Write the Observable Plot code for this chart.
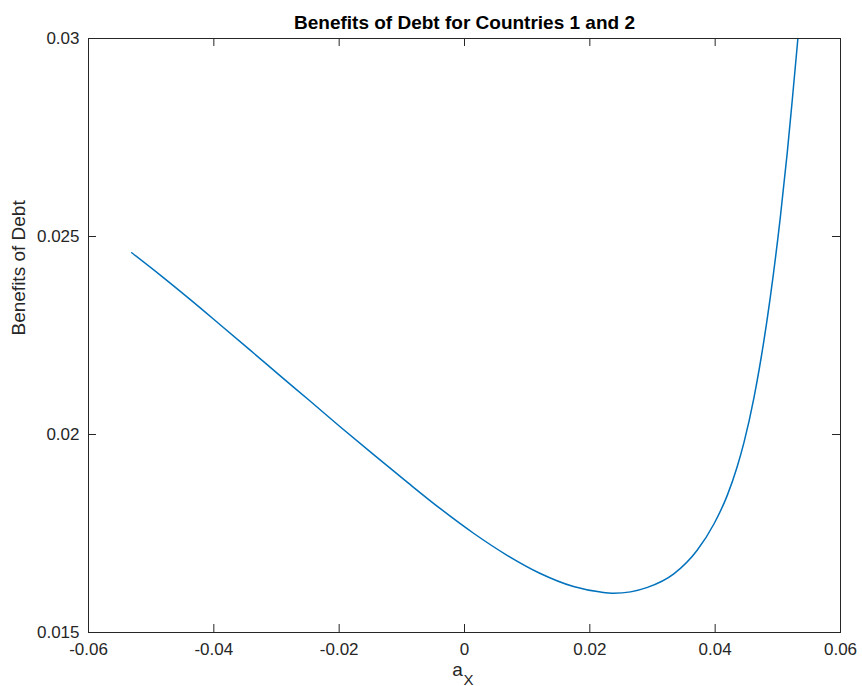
<!DOCTYPE html>
<html>
<head>
<meta charset="utf-8">
<script src="https://cdn.jsdelivr.net/npm/d3@7"></script>
<script src="https://cdn.jsdelivr.net/npm/@observablehq/plot@0.6"></script>
<style>
  body { margin: 0; background: #fff; }
</style>
</head>
<body>
<div id="chart"></div>
<script>
// Benefits of debt as a function of a_X
const ax = [-0.0531, -0.0485, -0.0437, -0.0389, -0.0342, -0.0294, -0.0246, -0.0198, -0.0145, -0.0091,
            -0.0038, 0.0015, 0.0068, 0.0121, 0.0174, 0.0217, 0.0238, 0.0292, 0.0334, 0.0371,
            0.0398, 0.0419, 0.0435, 0.0446, 0.0462, 0.0488, 0.0504, 0.0515, 0.0523, 0.0532];
const benefit = [0.02459, 0.02402, 0.02340, 0.02276, 0.02213, 0.02148, 0.02084, 0.02019, 0.01949, 0.01879,
                 0.01812, 0.01750, 0.01695, 0.01649, 0.01616, 0.01602, 0.01599, 0.01614, 0.01648, 0.01707,
                 0.01774, 0.01845, 0.01918, 0.01980, 0.02094, 0.02347, 0.02549, 0.02711, 0.02844, 0.03000];

const xTicks = [-0.06, -0.04, -0.02, 0, 0.02, 0.04, 0.06];
const xTickLabels = ["-0.06", "-0.04", "-0.02", "0", "0.02", "0.04", "0.06"];
const yTicks = [0.015, 0.02, 0.025, 0.03];
const yTickLabels = ["0.015", "0.02", "0.025", "0.03"];

const titleText = "Benefits of Debt for Countries 1 and 2";
const yLabel = "Benefits of Debt";
const xLabelBase = "a";
const xLabelSub = "X";

// Layout
const W = 862, H = 686;
const mL = 88, mR = 22, mT = 38, mB = 54;
const plotW = W - mL - mR, plotH = H - mT - mB;
const tickLen = 8;
const ink = "#262626";

const points = ax.map((x, i) => ({x, y: benefit[i]}));

const chart = Plot.plot({
  width: W,
  height: H,
  marginLeft: mL,
  marginRight: mR,
  marginTop: mT,
  marginBottom: mB,
  style: {
    fontFamily: "'Liberation Sans', Arial, Helvetica, sans-serif",
    fontSize: "17px",
    color: ink,
    background: "#fff"
  },
  x: {domain: [-0.06, 0.06]},
  y: {domain: [0.015, 0.03]},
  marks: [
    Plot.line(points, {x: "x", y: "y", stroke: "#0072BD", strokeWidth: 1.5, curve: "monotone-x", clip: true}),
    // inward ticks on all four sides
    Plot.tickX(xTicks, {x: d => d, insetTop: plotH - tickLen, stroke: ink}),
    Plot.tickX(xTicks, {x: d => d, insetBottom: plotH - tickLen, stroke: ink}),
    Plot.tickY(yTicks, {y: d => d, insetRight: plotW - tickLen, stroke: ink}),
    Plot.tickY(yTicks, {y: d => d, insetLeft: plotW - tickLen, stroke: ink}),
    Plot.frame({stroke: ink}),
    Plot.axisX({ticks: xTicks, tickSize: 0, tickPadding: 10, label: null, fontSize: 17,
                tickFormat: d => xTickLabels[xTicks.indexOf(d)]}),
    Plot.axisY({ticks: yTicks, tickSize: 0, tickPadding: 9, label: null, fontSize: 17,
                tickFormat: d => yTickLabels[yTicks.indexOf(d)]}),
    Plot.text([titleText], {frameAnchor: "top", dy: -10, lineAnchor: "bottom", fontSize: 19,
                            fontWeight: "bold", fill: "#000"}),
    Plot.text([yLabel], {frameAnchor: "left", rotate: -90, dx: -70, fontSize: 19, fill: ink}),
    Plot.text([xLabelBase], {frameAnchor: "bottom", dx: -7, dy: 43.5, lineAnchor: "bottom", fontSize: 19, fill: ink}),
    Plot.text([xLabelSub], {frameAnchor: "bottom", dx: 4, dy: 52, lineAnchor: "bottom", fontSize: 15, fill: ink})
  ]
});

document.getElementById("chart").appendChild(chart);
</script>
</body>
</html>
